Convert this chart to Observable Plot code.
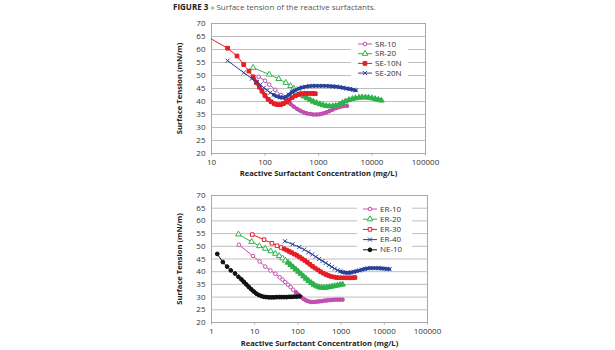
<!DOCTYPE html>
<html><head><meta charset="utf-8">
<script src="https://cdn.jsdelivr.net/npm/d3@7"></script>
<script src="https://cdn.jsdelivr.net/npm/@observablehq/plot@0.6"></script>
<style>
body{margin:0;background:#fff;font-family:"Open Sans",sans-serif;}
#wrap{position:relative;width:615px;height:350px;overflow:hidden;background:#fff;}
#title{position:absolute;left:173px;top:1px;font-size:8px;line-height:12px;color:#555;white-space:nowrap;}
#title b{color:#222;}
.chart{position:absolute;left:0;}
</style></head><body>
<div id="wrap"><div id="title"><b>FIGURE 3</b> » Surface tension of the reactive surfactants.</div></div>
<script>
// ---------- data ----------
const yTicks = [20, 25, 30, 35, 40, 45, 50, 55, 60, 65, 70];
const topXTicks = [10, 100, 1000, 10000, 100000];
const botXTicks = [1, 10, 100, 1000, 10000, 100000];
const xTitle = "Reactive Surfactant Concentration (mg/L)";
const yTitle = "Surface Tension (mN/m)";

const topNames = ["SR-10", "SR-20", "SE-10N", "SE-20N"];
const botNames = ["ER-10", "ER-20", "ER-30", "ER-40", "NE-10"];

const sr10 = [[76,49.5],[100,48.0],[120,46.5],[155,44.5],[200,42.5],[235,41.2],[270,40.0],[300,39.0],[345,38.0],[400,37.1],[460,36.4],[530,35.8],[610,35.4],[700,35.2],[800,35.0],[920,35.0],[1060,35.1],[1220,35.4],[1400,35.8],[1600,36.3],[1850,36.9],[2150,37.5],[2500,37.9],[2900,38.2],[3400,38.3]];
const sr20 = [[60,53.0],[120,50.4],[180,48.7],[245,47.2],[300,46.0],[345,45.0],[400,43.9],[460,42.9],[530,42.0],[610,41.3],[700,40.6],[800,40.0],[920,39.5],[1060,39.0],[1220,38.6],[1400,38.3],[1600,38.2],[1850,38.2],[2100,38.4],[2450,38.9],[2800,39.5],[3200,40.1],[3700,40.6],[4300,41.0],[4900,41.3],[5700,41.5],[6500,41.6],[7500,41.6],[8600,41.5],[9900,41.3],[11400,41.0],[13100,40.7],[15000,40.4]];
const se10n = [[7,65.8],[20,60.5],[30,57.5],[40,54.2],[50,51.7],[60,49.5],[69,47.3],[79,45.5],[88,44.0],[100,42.3],[115,40.8],[130,39.9],[150,39.1],[170,38.8],[195,38.8],[220,39.2],[250,39.8],[280,40.6],[320,41.5],[370,42.2],[430,42.7],[500,43.0],[580,43.1],[670,43.1],[770,43.1],[870,43.0]];
const se20n = [[20,55.7],[40,51.1],[57,48.8],[70,47.5],[82,46.5],[95,45.3],[110,44.3],[125,43.4],[145,42.6],[165,42.0],[190,41.6],[215,41.5],[245,41.8],[280,42.6],[320,43.6],[370,44.4],[430,45.0],[500,45.4],[580,45.7],[670,45.9],[770,46.0],[890,46.0],[1030,46.0],[1200,46.0],[1380,46.0],[1600,45.9],[1850,45.8],[2150,45.7],[2500,45.5],[2900,45.3],[3350,45.0],[3900,44.8],[4500,44.5],[5000,44.3]];

const er10 = [[4.3,50.6],[9.1,46.2],[13,44.0],[17.5,42.0],[23,40.5],[30,39.2],[38,37.8],[44,36.9],[51,35.9],[59,34.9],[68,33.9],[78,32.9],[90,31.9],[103,31.0],[118,30.1],[135,29.3],[155,28.7],[178,28.3],[205,28.1],[235,28.1],[270,28.2],[310,28.3],[355,28.4],[410,28.6],[470,28.7],[540,28.8],[620,28.9],[710,29.0],[820,29.0],[940,29.0],[1080,29.0]];
const er20 = [[4.2,54.7],[8.5,51.8],[12.8,50.1],[17.5,49.1],[23.5,48.1],[30,47.1],[37,46.2],[44,45.3],[51,44.4],[59,43.6],[68,42.7],[78,41.8],[90,40.9],[103,40.0],[118,39.1],[135,38.2],[155,37.3],[178,36.4],[205,35.6],[235,34.9],[270,34.3],[310,33.9],[355,33.7],[410,33.7],[470,33.8],[540,34.0],[620,34.2],[710,34.4],[820,34.6],[940,34.8],[1080,35.0]];
const er30 = [[8.8,54.6],[16.5,52.6],[25,51.2],[33,50.2],[41,49.5],[48,49.0],[55,48.5],[63,48.0],[72,47.5],[83,46.9],[95,46.4],[109,45.8],[125,45.1],[144,44.4],[165,43.7],[190,42.9],[218,42.1],[250,41.4],[290,40.7],[335,40.0],[385,39.4],[445,38.9],[510,38.5],[590,38.1],[680,37.9],[780,37.7],[900,37.6],[1030,37.6],[1190,37.6],[1370,37.6],[1580,37.6],[1820,37.6],[2100,37.7]];
const er40 = [[50,52.0],[75,50.8],[107,49.7],[140,48.7],[175,47.7],[215,46.8],[260,45.9],[310,45.0],[370,44.2],[440,43.4],[520,42.6],[610,41.9],[710,41.2],[830,40.6],[960,40.1],[1100,39.8],[1280,39.6],[1480,39.6],[1700,39.7],[1970,39.9],[2280,40.2],[2650,40.5],[3050,40.8],[3550,41.1],[4100,41.3],[4750,41.4],[5500,41.4],[6350,41.4],[7350,41.4],[8500,41.3],[9850,41.2],[11400,41.1],[13200,41.0]];
const ne10 = [[1.36,47.0],[1.83,43.8],[2.3,42.0],[2.8,40.5],[3.5,39.3],[4.2,38.0],[4.9,37.0],[5.6,36.0],[6.4,35.0],[7.3,34.0],[8.3,33.1],[9.5,32.2],[10.9,31.4],[12.5,30.8],[14.3,30.4],[16.4,30.1],[18.8,30.0],[21.5,29.9],[24.6,29.9],[28,29.9],[32,30.0],[37,30.0],[42,30.0],[48,30.0],[55,30.0],[63,30.1],[72,30.1],[83,30.2],[95,30.2],[110,30.3]];

// concentration above which measurements are so closely spaced that markers merge
const denseFrom = {"SR-10": 230, "SR-20": 480, "SE-10N": 55, "SE-20N": 140,
  "ER-10": 90, "ER-20": 55, "ER-30": 45, "ER-40": 850, "NE-10": 4.5};

// ---------- styles ----------
const PINK = "#c04fae", GREEN = "#2fb24c", RED = "#e41f26", BLUE = "#27409b", BLACK = "#111";
const styles = {
  "SR-10": {c: PINK, s: d3.symbolCircle, filled: false, r: 1.8},
  "SR-20": {c: GREEN, s: d3.symbolTriangle, filled: false, r: 2.1},
  "SE-10N": {c: RED, s: d3.symbolSquare, filled: true, r: 2.1},
  "SE-20N": {c: BLUE, s: d3.symbolTimes, filled: false, r: 2.0},
  "ER-10": {c: PINK, s: d3.symbolCircle, filled: false, r: 1.8},
  "ER-20": {c: GREEN, s: d3.symbolTriangle, filled: false, r: 2.1},
  "ER-30": {c: RED, s: d3.symbolSquare, filled: false, r: 2.0},
  "ER-40": {c: BLUE, s: d3.symbolTimes, filled: false, r: 2.0},
  "NE-10": {c: BLACK, s: d3.symbolCircle, filled: true, r: 1.9}
};
const topData = {"SR-10": sr10, "SR-20": sr20, "SE-10N": se10n, "SE-20N": se20n};
const botData = {"ER-10": er10, "ER-20": er20, "ER-30": er30, "ER-40": er40, "NE-10": ne10};

function makeChart(o) {
  const series = o.names.map(name => o.data[name].map(([x, y]) => ({name, x, y})));
  const seriesMarks = [];
  series.forEach(s => {
    const n = s[0].name, st = styles[n];
    const dense = s.filter(d => d.x >= denseFrom[n]);
    const sparse = s.filter(d => d.x < denseFrom[n]);
    seriesMarks.push(
      Plot.line(s, {x: "x", y: "y", stroke: st.c, strokeWidth: 1, clip: true}),
      Plot.line(dense, {x: "x", y: "y", stroke: st.c, strokeWidth: 3.4, curve: "monotone-x", clip: true}),
      Plot.dot(sparse, {x: "x", y: "y", r: st.r, symbol: st.s, stroke: st.c, fill: st.filled ? st.c : "white", strokeWidth: 1, clip: true}),
      Plot.dot(dense, {x: "x", y: "y", r: st.r, symbol: st.s, stroke: st.c, fill: st.c, strokeWidth: 1, clip: true})
    );
  });
  const chart = Plot.plot({
    width: 615, height: o.height,
    marginTop: o.mt, marginBottom: o.mb, marginLeft: o.ml, marginRight: o.mr,
    style: {fontFamily: "'Open Sans', sans-serif", fontSize: "8px", color: "#333", background: "transparent", overflow: "visible"},
    x: {type: "log", domain: o.xDomain},
    y: {domain: [20, 70]},
    marks: [
      Plot.gridY(yTicks.slice(1, -1), {stroke: "#bfbfbf", strokeOpacity: 1}),
      Plot.frame({stroke: "#a8a8a8"}),
      Plot.axisX({ticks: o.xTicks, tickFormat: d => String(d), tickSize: 2.5, tickPadding: 3, label: null, stroke: "#a8a8a8", fill: "#333"}),
      Plot.axisY({ticks: yTicks, tickSize: 0, tickPadding: 6, label: null, fill: "#333"}),
      ...seriesMarks,
      Plot.text([xTitle], {text: d => d, frameAnchor: "bottom", dy: o.xtdy, lineAnchor: "middle", textAnchor: "middle", fontWeight: "bold", fontSize: 7.6, fill: "#222"}),
      Plot.text([yTitle], {text: d => d, frameAnchor: "left", dx: -32, rotate: -90, lineAnchor: "middle", textAnchor: "middle", fontWeight: "bold", fontSize: 7.6, fill: "#222"})
    ]
  });
  // legend
  const svg = d3.select(chart);
  const g = svg.append("g").attr("font-size", 8).attr("fill", "#333").attr("text-anchor", "start");
  const L = o.legend;
  g.append("rect").attr("x", L.bx).attr("y", L.by).attr("width", L.bw).attr("height", L.bh).attr("fill", "white");
  o.names.forEach((n, i) => {
    const st = styles[n];
    const y = L.y0 + i * L.dy;
    g.append("line").attr("x1", L.lx).attr("x2", L.lx + 14).attr("y1", y).attr("y2", y).attr("stroke", st.c).attr("stroke-width", 1);
    g.append("path").attr("d", d3.symbol(st.s, st.r * st.r * Math.PI)()).attr("transform", `translate(${L.lx + 7},${y})`)
      .attr("stroke", st.c).attr("fill", st.filled ? st.c : "white").attr("stroke-width", 1);
    g.append("text").attr("x", L.lx + 17).attr("y", y).attr("dy", "0.32em").attr("text-anchor", "start").text(n);
  });
  chart.classList.add("chart");
  chart.style.top = o.top + "px";
  document.getElementById("wrap").appendChild(chart);
}

makeChart({names: topNames, data: topData, height: 178, mt: 23, mb: 25, ml: 211, mr: 190, top: 0,
  xDomain: [10, 100000], xTicks: topXTicks, xtdy: 20,
  legend: {bx: 351, by: 37, bw: 57, bh: 42, y0: 44, dy: 9.7, lx: 358}});
makeChart({names: botNames, data: botData, height: 172, mt: 17, mb: 28, ml: 211, mr: 188, top: 178,
  xDomain: [1, 100000], xTicks: botXTicks, xtdy: 21,
  legend: {bx: 357, by: 22, bw: 55, bh: 58, y0: 31, dy: 10.2, lx: 363}});
</script>
</body></html>
